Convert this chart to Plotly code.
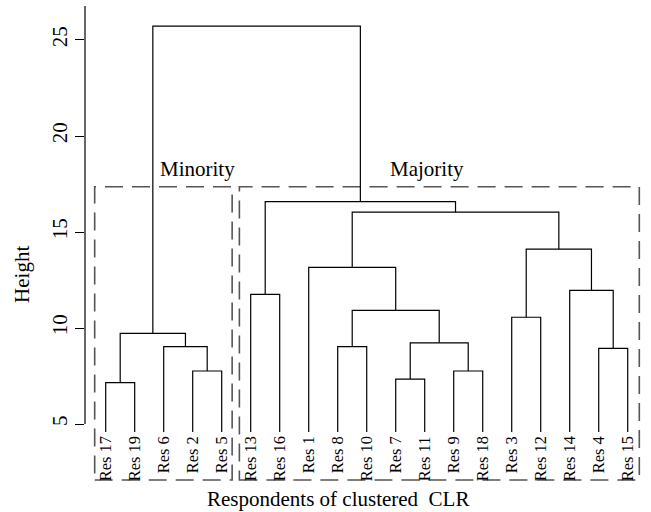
import plotly.graph_objects as go

# Leaf order along the x axis
leaf_labels = ["Res 17", "Res 19", "Res 6", "Res 2", "Res 5",
               "Res 13", "Res 16", "Res 1", "Res 8", "Res 10",
               "Res 7", "Res 11", "Res 9", "Res 18", "Res 3",
               "Res 12", "Res 14", "Res 4", "Res 15"]

# Merge table: negative = leaf (1-based position in leaf_labels), positive = earlier merge
merge_left = [-1, -4, -3, 1, -11, -13, 5, -9, 8, -8, -15, -18, -17, 11, 10, -6, 16, 4]
merge_right = [-2, -5, 2, 3, -12, -14, 6, -10, 7, 9, -16, -19, 12, 13, 14, -7, 15, 17]
merge_height = [7.15, 7.76, 9.03, 9.72, 7.34, 7.76, 9.23, 9.03, 10.92, 13.16,
                10.56, 8.94, 11.96, 14.11, 16.03, 11.75, 16.58, 25.72]

y_ticks = [5, 10, 15, 20, 25]
leaf_base = 4.58

FONT = "Liberation Serif"

# Build the dendrogram polyline
node_x, node_h = [], []
xs, ys = [], []


def child_pos(ref):
    if ref < 0:
        return float(-ref), leaf_base
    return node_x[ref - 1], node_h[ref - 1]


for l, r, h in zip(merge_left, merge_right, merge_height):
    xl, hl = child_pos(l)
    xr, hr = child_pos(r)
    xs += [xl, xl, xr, xr, None]
    ys += [hl, h, h, hr, None]
    node_x.append((xl + xr) / 2)
    node_h.append(h)

fig = go.Figure()
fig.add_trace(go.Scatter(x=xs, y=ys, mode="lines",
                         line=dict(color="black", width=1.2),
                         hoverinfo="skip", showlegend=False))

# Leaf labels
for i, lab in enumerate(leaf_labels):
    fig.add_annotation(x=i + 1, y=leaf_base, text=lab, showarrow=False,
                       textangle=-90, xanchor="center", yanchor="top",
                       yshift=-2, font=dict(family=FONT, size=16.5, color="black"))

# Group boxes
box_style = dict(color="#555555", width=1.6, dash="18px,9px")
fig.add_shape(type="rect", x0=0.62, x1=5.36, y0=2.08, y1=17.36,
              line=box_style, layer="below")
fig.add_shape(type="rect", x0=5.61, x1=19.4, y0=2.08, y1=17.36,
              line=box_style, layer="below")
fig.add_annotation(x=4.18, y=18.28, text="Minority", showarrow=False,
                   font=dict(family=FONT, size=21, color="black"))
fig.add_annotation(x=12.07, y=18.28, text="Majority", showarrow=False,
                   font=dict(family=FONT, size=21, color="black"))

# Axis titles
fig.add_annotation(x=9.02, y=1.09, text="Respondents of clustered\u00a0 CLR",
                   showarrow=False, font=dict(family=FONT, size=21, color="black"))
fig.add_annotation(xref="paper", x=0, xanchor="center", xshift=-62.5, y=12.79,
                   text="Height", textangle=-90, showarrow=False,
                   font=dict(family=FONT, size=21, color="black"))

# Vertical axis line
fig.add_shape(type="line", xref="paper", x0=0, x1=0, y0=5, y1=26.77,
              line=dict(color="black", width=1.2))

fig.update_layout(
    width=651, height=512,
    margin=dict(l=85, r=0, t=0, b=0),
    paper_bgcolor="white", plot_bgcolor="white",
    xaxis=dict(range=[0.2862, 19.803], visible=False, fixedrange=True),
    yaxis=dict(range=[0.4167, 27.083], showgrid=False, zeroline=False,
               showline=False, tickmode="array", tickvals=y_ticks,
               ticktext=[str(v) for v in y_ticks], ticks="outside",
               ticklen=9, tickwidth=1.2, tickcolor="black", tickangle=-90,
               ticklabelstandoff=0,
               tickfont=dict(family=FONT, size=21, color="black")),
)

fig.write_html("out.html")
